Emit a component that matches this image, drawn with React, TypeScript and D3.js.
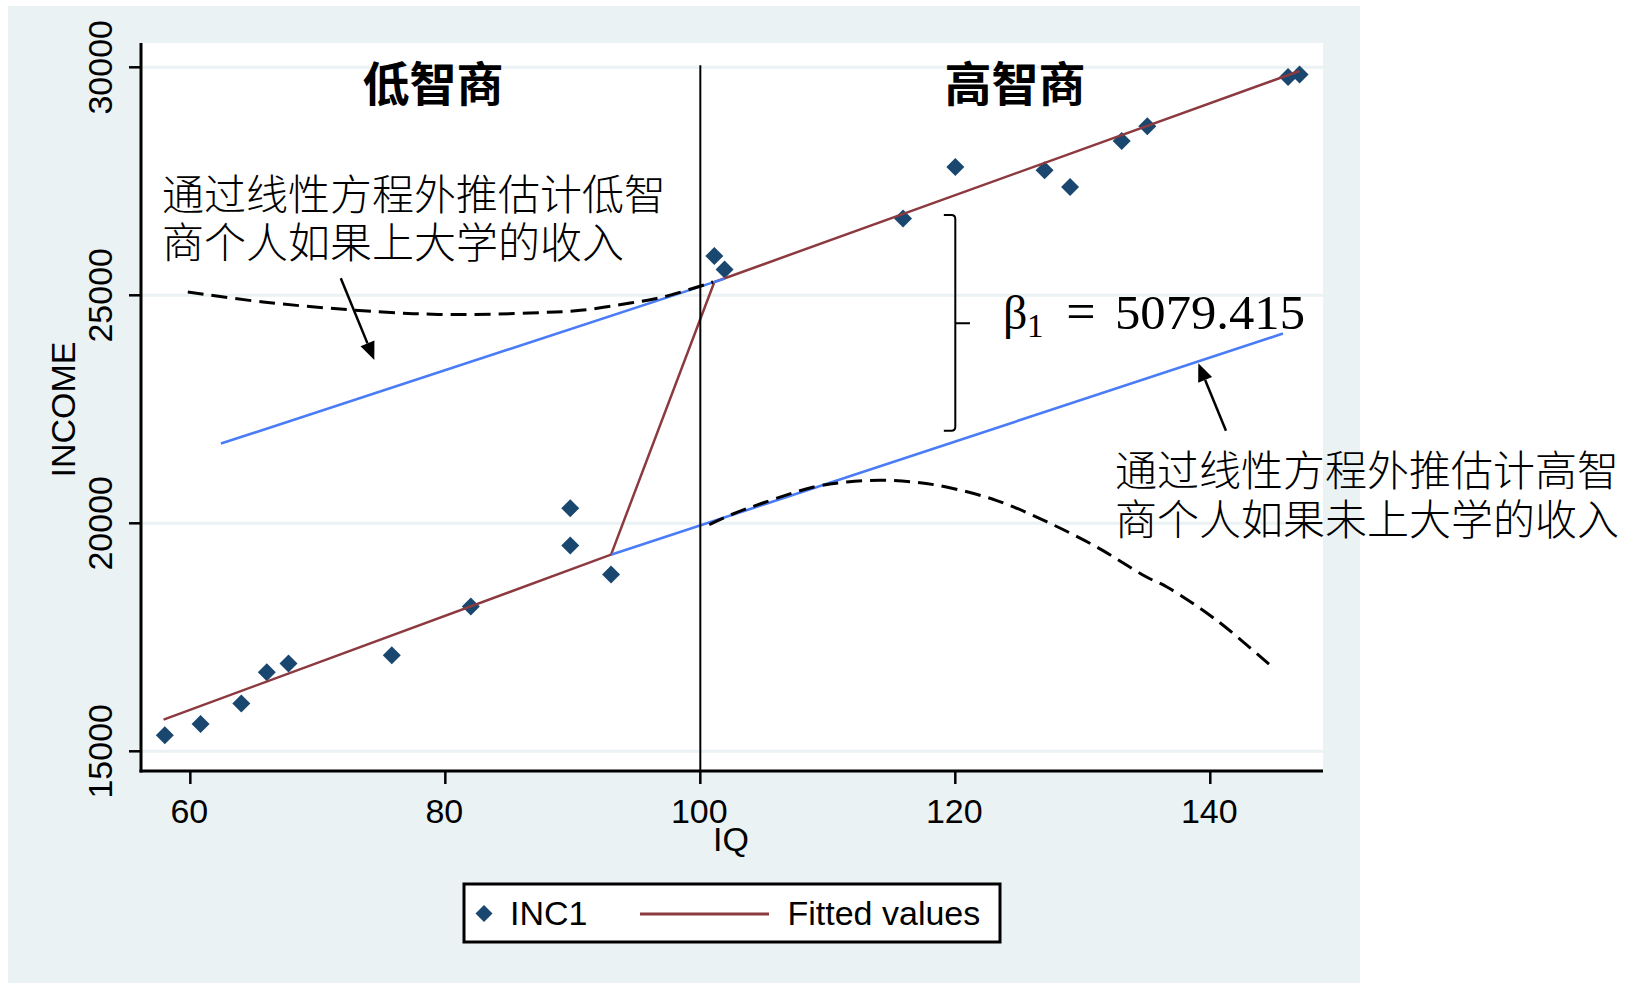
import React from "react";
import * as d3 from "d3";

// ---- data ----
const IQ = [58, 60.8, 64, 66, 67.7, 75.8, 82, 89.8, 89.8, 93, 101.1, 101.9, 115.9, 120, 127, 129, 133.05, 135.06, 146.1, 147];
const INC1 = [15351, 15599, 16046, 16732, 16923, 17105, 18173, 20329, 19511, 18875, 25862, 25564, 26682, 27814, 27741, 27375, 28384, 28706, 29787, 29840];

const FIT_IQ = [57.9, 93.0, 101.1, 147.0];
const FIT_INC = [15695, 19314, 25292, 29919];

const EXTRAP_LOW_IQ = [62.4, 101.9];
const EXTRAP_LOW_INC = [21748, 25366];
const EXTRAP_HIGH_IQ = [93.05, 145.7];
const EXTRAP_HIGH_INC = [19314, 24160];

const CURVE_LOW_IQ = [59.8, 65.7, 72.3, 77.5, 81.4, 86.6, 90.6, 94.5, 97.1, 101.0];
const CURVE_LOW_INC = [25072, 24853, 24686, 24598, 24577, 24612, 24671, 24831, 24963, 25292];
const CURVE_HIGH_IQ = [100.7, 102.3, 104.9, 108.9, 111.5, 114.1, 116.7, 119.3, 123.2, 127.2, 131.1, 135.0, 136.6, 140.5, 145.0];
const CURVE_HIGH_INC = [19971, 20175, 20445, 20796, 20906, 20943, 20906, 20796, 20504, 20029, 19480, 18822, 18603, 17873, 16814];

const X_TICKS = [60, 80, 100, 120, 140];
const Y_TICKS = [15000, 20000, 25000, 30000];
const CUTOFF = 100;
const BETA_TEXT = "5079.415";

// annotation anchors in data units
const ARROW1 = { from: [71.8, 25373], to: [74.43, 23581] };
const ARROW2 = { from: [141.23, 22031], to: [139.06, 23509] };
const BRACE = { iq: 120, iqHook: 119.1, iqNub: 121.15, top: 26761, mid: 24386, bottom: 22031 };

const NOTE_LOW = ["通过线性方程外推估计低智", "商个人如果上大学的收入"];
const NOTE_HIGH = ["通过线性方程外推估计高智", "商个人如果未上大学的收入"];

const SANS = "'Liberation Sans', Arial, sans-serif";
const CJK = "'Noto Sans CJK SC', 'Noto Sans CJK JP', sans-serif";
const SERIF = "'Liberation Serif', 'DejaVu Serif', serif";

const BG = "#eaf2f3";
const NAVY = "#1a476f";
const MAROON = "#8c3a3f";
const BLUE = "#4a7cf7";

export default function App() {
  const x = d3.scaleLinear().domain([56.13, 148.84]).range([141, 1323]);
  const y = d3.scaleLinear().domain([14568, 30533]).range([771, 43]);

  const line = d3
    .line<[number, number]>()
    .x((d) => x(d[0]))
    .y((d) => y(d[1]));
  const curve = d3
    .line<[number, number]>()
    .x((d) => x(d[0]))
    .y((d) => y(d[1]))
    .curve(d3.curveCatmullRom);

  const zip = (a: number[], b: number[]) => a.map((v, i) => [v, b[i]] as [number, number]);

  const diamond = (cx: number, cy: number, r: number) =>
    `M${cx},${cy - r}L${cx + r},${cy}L${cx},${cy + r}L${cx - r},${cy}Z`;

  const arrow = (a: { from: number[]; to: number[] }, key: string) => {
    const x1 = x(a.from[0]);
    const y1 = y(a.from[1]);
    const x2 = x(a.to[0]);
    const y2 = y(a.to[1]);
    const ang = Math.atan2(y2 - y1, x2 - x1);
    const L = 18;
    const W = 7.5;
    const bx = x2 - L * Math.cos(ang);
    const by = y2 - L * Math.sin(ang);
    const px = -Math.sin(ang) * W;
    const py = Math.cos(ang) * W;
    return (
      <g key={key}>
        <line x1={x1} y1={y1} x2={bx} y2={by} stroke="#000" strokeWidth={2.5} />
        <path d={`M${x2},${y2}L${bx + px},${by + py}L${bx - px},${by - py}Z`} fill="#000" />
      </g>
    );
  };

  const bx = x(BRACE.iq);
  const bh = x(BRACE.iqHook);
  const bn = x(BRACE.iqNub);
  const bt = y(BRACE.top);
  const bb = y(BRACE.bottom);
  const bm = y(BRACE.mid);
  const bracePath = `M${bh},${bt}L${bx - 4},${bt}Q${bx},${bt} ${bx},${bt + 4}L${bx},${bb - 4}Q${bx},${bb} ${bx - 4},${bb}L${bh},${bb}M${bx},${bm}L${bn},${bm}`;

  return (
    <svg
      width={1629}
      height={985}
      style={{ position: "absolute", left: 0, top: 0, display: "block" }}
    >
      <rect x={0} y={0} width={1629} height={985} fill="#fff" />
      <rect x={8} y={6} width={1352} height={977} fill={BG} />
      <rect x={x.range()[0]} y={y.range()[1]} width={x.range()[1] - x.range()[0]} height={y.range()[0] - y.range()[1]} fill="#fff" />

      {/* gridlines */}
      {Y_TICKS.map((t) => (
        <line key={"g" + t} x1={x.range()[0]} x2={x.range()[1]} y1={y(t)} y2={y(t)} stroke={BG} strokeWidth={3} />
      ))}

      {/* scatter points */}
      {IQ.map((v, i) => (
        <path key={"p" + i} d={diamond(x(v), y(INC1[i]), 9)} fill={NAVY} />
      ))}

      {/* fitted values */}
      <path d={line(zip(FIT_IQ, FIT_INC)) || ""} fill="none" stroke={MAROON} strokeWidth={2.5} />

      {/* extrapolated linear lines */}
      <path d={line(zip(EXTRAP_LOW_IQ, EXTRAP_LOW_INC)) || ""} fill="none" stroke={BLUE} strokeWidth={2.6} />
      <path d={line(zip(EXTRAP_HIGH_IQ, EXTRAP_HIGH_INC)) || ""} fill="none" stroke={BLUE} strokeWidth={2.6} />

      {/* dashed nonlinear curves */}
      <path d={curve(zip(CURVE_LOW_IQ, CURVE_LOW_INC)) || ""} fill="none" stroke="#000" strokeWidth={3} strokeDasharray="16 8" />
      <path d={curve(zip(CURVE_HIGH_IQ, CURVE_HIGH_INC)) || ""} fill="none" stroke="#000" strokeWidth={3} strokeDasharray="16 8" />

      {/* cutoff line */}
      <line x1={x(CUTOFF)} x2={x(CUTOFF)} y1={y(30000) - 2} y2={y.range()[0]} stroke="#000" strokeWidth={2} />

      {/* axes */}
      <line x1={x.range()[0]} x2={x.range()[0]} y1={y.range()[1]} y2={y.range()[0] + 1.5} stroke="#000" strokeWidth={3} />
      <line x1={x.range()[0] - 1.5} x2={x.range()[1]} y1={y.range()[0]} y2={y.range()[0]} stroke="#000" strokeWidth={3} />
      {Y_TICKS.map((t) => (
        <g key={"yt" + t}>
          <line x1={x.range()[0] - 12} x2={x.range()[0]} y1={y(t)} y2={y(t)} stroke="#000" strokeWidth={2.5} />
          <text
            transform={`translate(111.5,${y(t)}) rotate(-90)`}
            textAnchor="middle"
            fontFamily={SANS}
            fontSize={34}
            fill="#000"
          >
            {t}
          </text>
        </g>
      ))}
      {X_TICKS.map((t) => (
        <g key={"xt" + t}>
          <line x1={x(t)} x2={x(t)} y1={y.range()[0]} y2={y.range()[0] + 13} stroke="#000" strokeWidth={2.5} />
          <text x={x(t) - 1} y={823} textAnchor="middle" fontFamily={SANS} fontSize={34} fill="#000">
            {t}
          </text>
        </g>
      ))}
      <text x={731} y={851} textAnchor="middle" fontFamily={SANS} fontSize={34} fill="#000">
        IQ
      </text>
      <text
        transform={`translate(75,409.5) rotate(-90)`}
        textAnchor="middle"
        fontFamily={SANS}
        fontSize={34}
        fill="#000"
      >
        INCOME
      </text>

      {/* titles */}
      <text x={433} y={101} textAnchor="middle" fontFamily={CJK} fontWeight={700} fontSize={47} fill="#000">
        低智商
      </text>
      <text x={1015} y={101} textAnchor="middle" fontFamily={CJK} fontWeight={700} fontSize={47} fill="#000">
        高智商
      </text>

      {/* notes */}
      <text fontFamily={CJK} fontWeight={300} fontSize={42} fill="#000">
        {NOTE_LOW.map((s, i) => (
          <tspan key={"nl" + i} x={162} y={210 + i * 48}>
            {s}
          </tspan>
        ))}
      </text>
      <text fontFamily={CJK} fontWeight={300} fontSize={42} fill="#000">
        {NOTE_HIGH.map((s, i) => (
          <tspan key={"nh" + i} x={1115} y={486 + i * 49}>
            {s}
          </tspan>
        ))}
      </text>
      {arrow(ARROW1, "a1")}
      {arrow(ARROW2, "a2")}

      {/* brace and beta */}
      <path d={bracePath} fill="none" stroke="#000" strokeWidth={2} />
      <text x={1003} y={329} fontFamily={SERIF} fontSize={48} fill="#000">
        β
      </text>
      <text x={1027} y={337} fontFamily={SERIF} fontSize={33} fill="#000">
        1
      </text>
      <text x={1081} y={329} textAnchor="middle" fontFamily={SERIF} fontSize={52} fill="#000">
        =
      </text>
      <text x={1115} y={329} fontFamily={SERIF} fontSize={48} fill="#000" textLength={190} lengthAdjust="spacingAndGlyphs">
        {BETA_TEXT}
      </text>

      {/* legend */}
      <rect x={464} y={884} width={536} height={58} fill="#fff" stroke="#000" strokeWidth={3} />
      <path d={diamond(484, 913.5, 8.5)} fill={NAVY} />
      <text x={510} y={924.5} fontFamily={SANS} fontSize={34} fill="#000">
        INC1
      </text>
      <line x1={640} x2={769} y1={914} y2={914} stroke={MAROON} strokeWidth={3} />
      <text x={787.5} y={924.5} fontFamily={SANS} fontSize={34} fill="#000">
        Fitted values
      </text>
    </svg>
  );
}
